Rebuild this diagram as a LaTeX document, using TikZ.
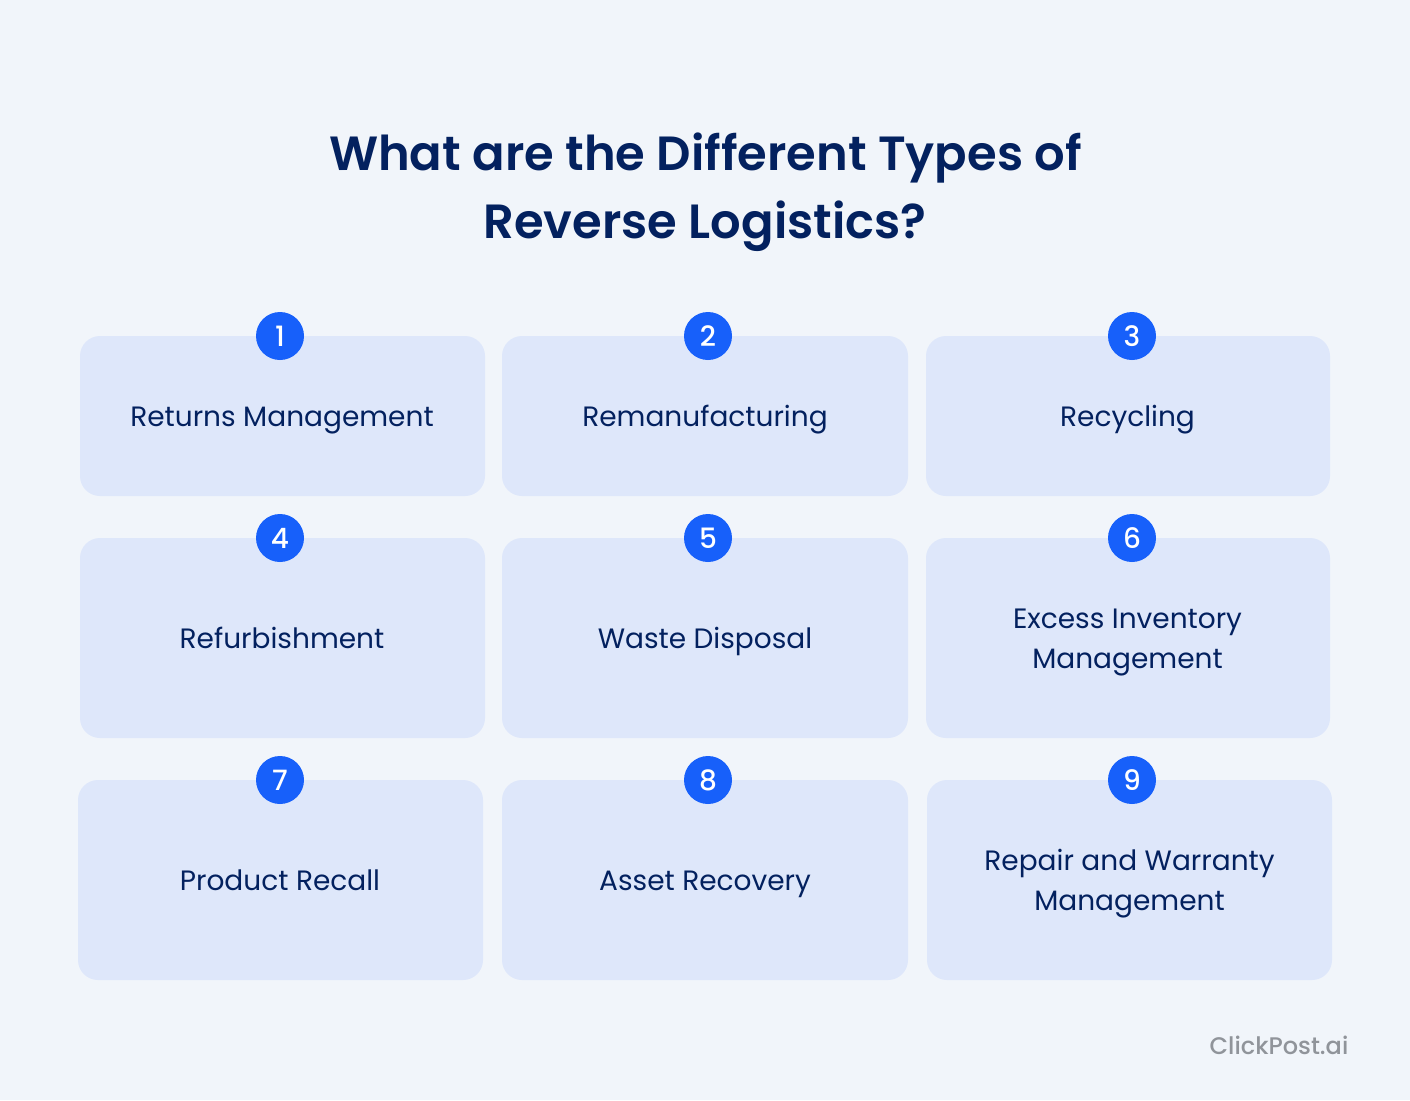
\documentclass[tikz,border=0pt]{standalone}
\usepackage{fontspec}
\setmainfont{Poppins}
\newfontfamily\popmed{Poppins Medium}
\newfontfamily\popsemi{Poppins SemiBold}
\definecolor{bgc}{HTML}{F1F5FA}
\definecolor{cardc}{HTML}{DEE7FA}
\definecolor{navy}{HTML}{03215F}
\definecolor{blu}{HTML}{1760FA}
\definecolor{wm}{HTML}{90949A}
\tikzset{x=1pt,y=-1pt,
 card/.style={fill=cardc,draw=none,rounded corners=20pt},
 badge/.style={circle,fill=blu,minimum size=48pt,inner sep=0pt,text=white,font=\popmed\fontsize{28}{28}\selectfont},
 lab/.style={text=navy,align=center,anchor=base,font=\fontsize{28}{40}\selectfont},
 ttl/.style={text=navy,align=center,anchor=base,font=\popsemi\fontsize{48}{68}\selectfont}}
\begin{document}
\begin{tikzpicture}
\useasboundingbox (0,0) rectangle (1410,1100);
\fill[bgc] (0,0) rectangle (1410,1100);
\node[ttl] (title1) at (705.5,170) {What are the Different Types of};
\node[ttl] (title2) at (705,238) {Reverse Logistics?};
\fill[card] (80,336) rectangle (485,496);
\fill[card] (502,336) rectangle (908,496);
\fill[card] (926,336) rectangle (1330,496);
\fill[card] (80,538) rectangle (485,738);
\fill[card] (502,538) rectangle (908,738);
\fill[card] (926,538) rectangle (1330,738);
\fill[card] (78,780) rectangle (483,980);
\fill[card] (502,780) rectangle (908,980);
\fill[card] (927,780) rectangle (1332,980);
\node[badge] (b1) at (280,336) {1};
\node[badge] (b2) at (708,336) {2};
\node[badge] (b3) at (1132,336) {3};
\node[badge] (b4) at (280,538) {4};
\node[badge] (b5) at (708,538) {5};
\node[badge] (b6) at (1132,538) {6};
\node[badge] (b7) at (280,780) {7};
\node[badge] (b8) at (708,780) {8};
\node[badge] (b9) at (1132,780) {9};
\node[lab] (l1) at (282,426) {Returns Management};
\node[lab] (l2) at (705,426) {Remanufacturing};
\node[lab] (l3) at (1127.5,426) {Recycling};
\node[lab] (l4) at (282,648) {Refurbishment};
\node[lab] (l5) at (705,648) {Waste Disposal};
\node[lab] (l6a) at (1127.5,628) {Excess Inventory};
\node[lab] (l6b) at (1127.5,668) {Management};
\node[lab] (l7) at (280,890) {Product Recall};
\node[lab] (l8) at (705,890) {Asset Recovery};
\node[lab] (l9a) at (1129.5,870) {Repair and Warranty};
\node[lab] (l9b) at (1129.5,910) {Management};
\node[text=wm,font=\popmed\fontsize{24}{25}\selectfont] (wm) at (1279,1045) {ClickPost.ai};
\end{tikzpicture}
\end{document}
